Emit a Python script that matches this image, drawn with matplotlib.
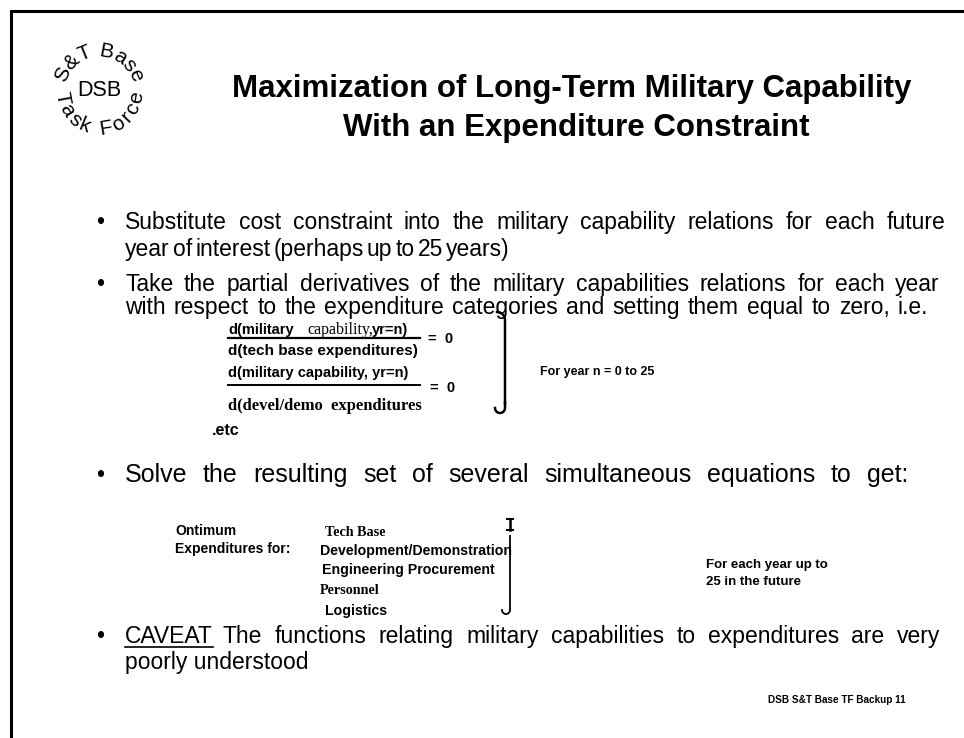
import matplotlib
matplotlib.use("Agg")
import matplotlib.pyplot as plt
import numpy as np

# ---- content ----
title_lines = ["Maximization of Long-Term Military Capability",
               "With an Expenditure Constraint"]
logo_top = "S&T Base"
logo_mid = "DSB"
logo_bottom = "Task Force"
bullet1 = ["Substitute cost constraint into the military capability relations for each future",
           "year of interest (perhaps up to 25 years)"]
bullet2 = ["Take the partial derivatives of the military capabilities relations for each year",
           "with respect to the expenditure categories and setting them equal to zero, i.e."]
eq1_num = ["d(military", "capability,", "yr=n)"]
eq1_den = "d(tech base expenditures)"
eq2_num = "d(military capability, yr=n)"
eq2_den = "d(devel/demo  expenditures"
eq_rhs = "=  0"
etc_text = ".etc"
eq_note = "For year n = 0 to 25"
bullet3 = "Solve the resulting set of several simultaneous equations to get:"
opt_left = ["Ontimum", "Expenditures for:"]
opt_items = ["Tech Base", "Development/Demonstration", "Engineering Procurement",
             "Personnel", "Logistics"]
opt_note = ["For each year up to", "25 in the future"]
caveat_head = "CAVEAT"
bullet4 = ["The functions relating military capabilities to expenditures are very",
           "poorly understood"]
footer = "DSB S&T Base TF Backup 11"

SANS = "Liberation Sans"
SERIF = "Liberation Serif"

fig = plt.figure(figsize=(9.64, 7.38), dpi=100)
ax = fig.add_axes([0, 0, 1, 1])
ax.set_xlim(0, 964)
ax.set_ylim(738, 0)
ax.axis("off")
renderer = fig.canvas.get_renderer()

def width_of(s, **kw):
    t = ax.text(0, 0, s, **kw)
    w = t.get_window_extent(renderer).width
    t.remove()
    return w

def line(x, y, s, x_end=None, **kw):
    """Text line on baseline y; if x_end is given, word spacing is adjusted to reach it."""
    if x_end is None:
        return ax.text(x, y, s, ha="left", va="baseline", **kw)
    words = s.split(" ")
    ws = [width_of(w, **kw) for w in words]
    gap = (x_end - x - sum(ws)) / max(len(words) - 1, 1)
    gap = max(gap, 2.5)
    cur = x
    for w, wd in zip(words, ws):
        ax.text(cur, y, w, ha="left", va="baseline", **kw)
        cur += wd + gap

# border (left and top)
ax.plot([11, 11, 964], [738, 11, 11], color="black", lw=2.2, solid_joinstyle="miter")

# ---- logo ----
cx, cy, r = 99, 91, 40
LFS = 15
def arc_text(s, a_mid, top=True, size=LFS, rad_r=r, track=0.0):
    ws = [width_of(ch if ch != " " else "n", fontsize=size, family=SANS) * (0.55 if ch == " " else 1)
          for ch in s]
    ws = [w + track for w in ws]
    total = sum(ws)
    span = np.rad2deg(total / rad_r)
    cum = np.cumsum([0] + ws[:-1]) + np.array(ws) / 2
    for ch, c in zip(s, cum):
        off = np.rad2deg(c / rad_r)
        a = a_mid + span / 2 - off if top else a_mid - span / 2 + off
        rr = np.deg2rad(a)
        x = cx + rad_r * np.cos(rr)
        y = cy - rad_r * np.sin(rr)
        rot = a - 90 if top else a + 90
        ax.text(x, y, ch, fontsize=size, family=SANS, rotation=rot,
                ha="center", va="center", rotation_mode="anchor")
arc_text(logo_top, 90, top=True, rad_r=40, track=1.5)
arc_text(logo_bottom, 270, top=False, rad_r=38, track=1.5)
ax.text(cx, cy, logo_mid, fontsize=15.5, family=SANS, ha="center", va="center")

# ---- title ----
ax.text(572, 89, title_lines[0], fontsize=22.5, fontweight="bold", family=SANS,
        ha="center", va="center")
ax.text(576, 128, title_lines[1], fontsize=22.5, fontweight="bold", family=SANS,
        ha="center", va="center")

# ---- bullets ----
BX, TX, BFS = 96, 125, 16.5
def dot(y):
    ax.text(BX, y, "\u2022", fontsize=BFS, family=SANS, ha="left", va="baseline")

dot(229)
line(TX, 229, bullet1[0], 945, fontsize=BFS, family=SANS)
line(TX, 256, bullet1[1], 510, fontsize=BFS, family=SANS)
dot(291)
line(TX, 291, bullet2[0], 940, fontsize=BFS, family=SANS)
line(TX, 314, bullet2[1], 928, fontsize=BFS, family=SANS)

# ---- equations ----
EFS = 10.5
ax.text(228, 334, eq1_num[0], fontsize=EFS, fontweight="bold", family=SANS, ha="left", va="baseline")
ax.text(307, 334, eq1_num[1], fontsize=EFS + 1, family=SERIF, ha="left", va="baseline")
ax.text(372, 334, eq1_num[2], fontsize=EFS, fontweight="bold", family=SANS, ha="left", va="baseline")
ax.plot([228, 420], [338, 338], color="black", lw=1.6)
ax.text(428, 339, eq_rhs, fontsize=EFS, fontweight="bold", family=SANS, ha="left", va="center")
ax.text(228, 355, eq1_den, fontsize=EFS + 0.5, fontweight="bold", family=SANS, ha="left", va="baseline")

ax.text(228, 377, eq2_num, fontsize=EFS, fontweight="bold", family=SANS, ha="left", va="baseline")
ax.plot([228, 420], [385, 385], color="black", lw=1.4)
ax.text(430, 388, eq_rhs, fontsize=EFS, fontweight="bold", family=SANS, ha="left", va="center")
ax.text(228, 410, eq2_den, fontsize=EFS + 1.5, fontweight="bold", family=SERIF, ha="left", va="baseline")
ax.text(212, 435, etc_text, fontsize=11.5, fontweight="bold", family=SANS, ha="left", va="baseline")

# bracket 1
bx = 505
t = np.linspace(0, np.pi / 2, 20)
ax.plot(np.r_[bx - 8 + 8 * np.sin(t), bx], np.r_[312 + 8 - 8 * np.cos(t), 403],
        color="black", lw=1.8)
tt = np.linspace(0, np.pi, 30)
ax.plot(np.r_[bx, bx - 5 + 5 * np.cos(tt)], np.r_[403, 408 + 5 * np.sin(tt)],
        color="black", lw=1.8)
ax.text(540, 372, eq_note, fontsize=9, fontweight="bold", family=SANS, ha="left", va="center")

# ---- bullet 3 ----
dot(482)
line(TX, 482, bullet3, 908, fontsize=BFS + 1.5, family=SANS)
ax.text(175, 531, opt_left[0], fontsize=10, fontweight="bold", family=SANS, ha="left", va="center")
ax.text(175, 549, opt_left[1], fontsize=10, fontweight="bold", family=SANS, ha="left", va="center")
item_x = [325, 320, 322, 320, 325]
item_y = [533, 551, 570, 590, 611]
item_fam = [SERIF, SANS, SANS, SERIF, SANS]
for xx, yy, s, fam in zip(item_x, item_y, opt_items, item_fam):
    ax.text(xx, yy, s, fontsize=10.2, fontweight="bold", family=fam, ha="left", va="center")

# bracket 2
b2 = 510
ax.plot([b2, b2], [519, 530], color="black", lw=1.8)
ax.plot([b2 - 3, b2 + 3], [519, 519], color="black", lw=1.5)
ax.plot([b2 - 3, b2 + 3], [530, 530], color="black", lw=1.5)
ax.plot(np.r_[b2, b2, b2 - 4 + 4 * np.cos(tt)], np.r_[536, 610, 610 + 4 * np.sin(tt)],
        color="black", lw=1.3)
ax.text(706, 565, opt_note[0], fontsize=9.5, fontweight="bold", family=SANS, ha="left", va="center")
ax.text(706, 582, opt_note[1], fontsize=9.5, fontweight="bold", family=SANS, ha="left", va="center")

# ---- bullet 4 ----
dot(643)
cav = ax.text(TX, 643, caveat_head, fontsize=BFS, family=SANS, ha="left", va="baseline")
bb = cav.get_window_extent(renderer)
ax.plot([bb.x0, bb.x1], [647, 647], color="black", lw=1.2)
line(bb.x1 + 10, 643, bullet4[0], 940, fontsize=BFS, family=SANS)
line(TX, 669, bullet4[1], fontsize=BFS, family=SANS)

# footer
ax.text(906, 700, footer, fontsize=7.2, fontweight="bold", family=SANS, ha="right", va="center")

fig.savefig("out.png", dpi=100)
